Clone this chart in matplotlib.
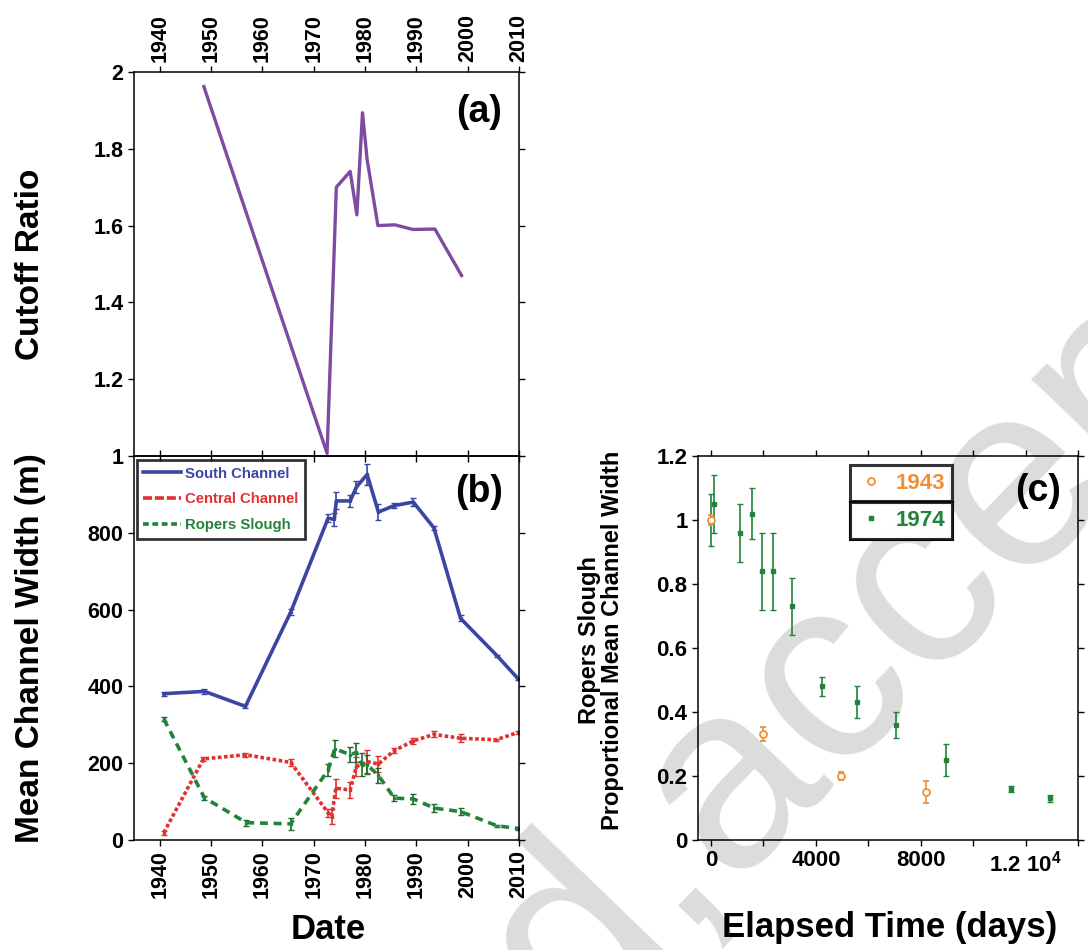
import numpy as np
import matplotlib
matplotlib.use("Agg")
import matplotlib.pyplot as plt
from matplotlib.lines import Line2D

plt.rcParams['font.family'] = ['Liberation Sans', 'DejaVu Sans']
plt.rcParams['font.weight'] = 'bold'
plt.rcParams['mathtext.fontset'] = 'custom'
plt.rcParams['mathtext.rm'] = 'Liberation Sans:bold'
plt.rcParams['mathtext.bf'] = 'Liberation Sans:bold'
plt.rcParams['mathtext.default'] = 'rm'

# (a) cutoff ratio
cut_year = [1948.6, 1972.6, 1974.1, 1974.4, 1977.1, 1978.4, 1979.5, 1980.4,
            1982.5, 1985.8, 1989.3, 1993.6, 1998.8]
cut_ratio = [1.962, 1.007, 1.581, 1.70, 1.741, 1.628, 1.894, 1.772,
             1.60, 1.602, 1.590, 1.591, 1.470]

# (b) mean channel width
south_year = [1940.8, 1948.7, 1956.7, 1965.5, 1972.8, 1974.0, 1974.4, 1977.1, 1978.3,
              1980.4, 1982.6, 1985.7, 1989.4, 1993.4, 1998.6, 2005.7, 2009.8]
south_width = [381, 387, 348, 593, 838, 835, 883, 883, 919,
               952, 854, 871, 880, 813, 577, 480, 420]
south_err = [5, 6, 5, 8, 10, 17, 22, 15, 15, 28, 20, 6, 10, 6, 8, 3, 3]

central_year = [1940.8, 1948.5, 1956.7, 1965.5, 1972.8, 1973.5, 1974.3, 1977.1, 1978.3,
                1980.4, 1982.6, 1985.7, 1989.4, 1993.4, 1998.6, 2005.5, 2009.8]
central_width = [19, 211, 222, 202, 71, 61, 135, 130, 191,
                 204, 198, 233, 258, 275, 265, 261, 280]
central_err = [5, 6, 5, 10, 10, 20, 25, 20, 25, 30, 20, 6, 8, 8, 10, 3, 3]

ropers_year = [1940.8, 1948.7, 1956.9, 1965.5, 1972.8, 1974.1, 1977.1, 1978.3, 1979.4,
               1980.4, 1982.6, 1985.7, 1989.4, 1993.5, 1998.6, 2005.7, 2009.8]
ropers_width = [315, 110, 45, 42, 182, 238, 222, 228, 196,
                196, 168, 109, 107, 83, 74, 37, 30]
ropers_err = [5, 5, 8, 15, 15, 22, 20, 25, 30, 25, 20, 8, 12, 10, 10, 3, 3]

# (c) Ropers Slough proportional width
days_1943 = [0, 1975, 4960, 8190]
prop_1943 = [1.0, 0.33, 0.20, 0.15]
err_1943 = [0.015, 0.022, 0.012, 0.035]

days_1974 = [0, 100, 1090, 1570, 1950, 2370, 3090, 4250, 5560, 7060, 8960, 11460, 12920]
prop_1974 = [1.0, 1.05, 0.96, 1.02, 0.84, 0.84, 0.73, 0.48, 0.43, 0.36, 0.25, 0.16, 0.13]
err_1974 = [0.08, 0.09, 0.09, 0.08, 0.12, 0.12, 0.09, 0.03, 0.05, 0.04, 0.05, 0.01, 0.01]

year_ticks = [1940, 1950, 1960, 1970, 1980, 1990, 2000, 2010]

purple = '#7d4ca0'
blue = '#3b46a3'
red = '#e0302f'
green = '#23833a'
dgreen = '#1f6b2e'
orange = '#f28e35'

fig = plt.figure(figsize=(10.88, 9.5), dpi=100)

# watermark behind everything
fig.text(0.437, -0.205, 'ed,accepted', fontsize=190, fontweight='normal',
         color='#dcdcdc', rotation=46, rotation_mode='anchor',
         ha='left', va='baseline', zorder=-1, family='Liberation Sans')

ax_a = fig.add_axes([0.1232, 0.52, 0.3539, 0.4042])
ax_b = fig.add_axes([0.1232, 0.1158, 0.3539, 0.4042])
ax_c = fig.add_axes([0.6415, 0.1158, 0.3493, 0.4042])

for ax in (ax_a, ax_b, ax_c):
    ax.set_facecolor('none')
    for s in ax.spines.values():
        s.set_linewidth(1.1)
    ax.tick_params(direction='out', length=4, width=1.0, labelsize=15.5,
                   top=True, right=True)

# ---- (a)
ax_a.plot(cut_year, cut_ratio, color=purple, lw=2.4)
ax_a.set_xlim(1935, 2010)
ax_a.set_ylim(1, 2)
ax_a.set_xticks(year_ticks)
ax_a.set_xticklabels([str(y) for y in year_ticks], rotation=90)
ax_a.tick_params(axis='x', labeltop=True, labelbottom=False)
ax_a.set_yticks([1, 1.2, 1.4, 1.6, 1.8, 2])
ax_a.set_yticklabels(['1', '1.2', '1.4', '1.6', '1.8', '2'])
ax_a.set_ylabel('Cutoff Ratio', fontsize=24, fontweight='bold')
ax_a.yaxis.set_label_coords(-0.228, 0.5)
ax_a.text(0.895, 0.895, '(a)', transform=ax_a.transAxes, fontsize=27,
          fontweight='bold', ha='center', va='center')

# ---- (b)
ax_b.errorbar(south_year, south_width, yerr=south_err, color=blue, lw=2.6,
              elinewidth=1.2, capsize=2.5, ecolor=blue, marker='.', ms=3)
ax_b.errorbar(central_year, central_width, yerr=central_err, color=red, lw=2.6,
              ls=(0, (1.0, 0.7)), elinewidth=1.2, capsize=2.5, ecolor=red,
              marker='s', ms=2)
ax_b.errorbar(ropers_year, ropers_width, yerr=ropers_err, color=green, lw=2.6,
              ls=(0, (2.2, 1.6)), elinewidth=1.2, capsize=2.5, ecolor=dgreen,
              marker='s', ms=2)
ax_b.set_xlim(1935, 2010)
ax_b.set_ylim(0, 1000)
ax_b.set_xticks(year_ticks)
ax_b.set_xticklabels([str(y) for y in year_ticks], rotation=90)
ax_b.set_yticks([0, 200, 400, 600, 800])
ax_b.set_ylabel('Mean Channel Width (m)', fontsize=24, fontweight='bold')
ax_b.yaxis.set_label_coords(-0.228, 0.5)
ax_b.set_xlabel('Date', fontsize=25, fontweight='bold', va='center')
ax_b.xaxis.set_label_coords(0.504, -0.234)
ax_b.text(0.895, 0.905, '(b)', transform=ax_b.transAxes, fontsize=27,
          fontweight='bold', ha='center', va='center')

handles = [Line2D([], [], color=blue, lw=2.6),
           Line2D([], [], color=red, lw=2.6, ls=(0, (2.5, 0.8))),
           Line2D([], [], color=green, lw=2.6, ls=(0, (1.6, 1.0)))]
leg_b = ax_b.legend(handles, ['South Channel', 'Central Channel', 'Ropers Slough'],
                    loc='upper left', bbox_to_anchor=(0.007, 0.99), fontsize=10.7,
                    frameon=True, fancybox=False, edgecolor='black',
                    handlelength=2.55, handletextpad=0.27, borderpad=0.45,
                    labelspacing=0.8, borderaxespad=0)
leg_b.get_frame().set_linewidth(2.0)
for t, c in zip(leg_b.get_texts(), [blue, red, green]):
    t.set_color(c)

# ---- (c)
ax_c.errorbar(days_1974, prop_1974, yerr=err_1974, color=green, ls='none',
              marker='s', ms=3.5, elinewidth=1.2, capsize=2.5, zorder=3)
ax_c.errorbar(days_1943, prop_1943, yerr=err_1943, color=orange, ls='none',
              marker='o', ms=5, mfc='white', mew=1.3, elinewidth=1.2, capsize=2.5,
              zorder=4)
ax_c.set_xlim(-500, 14000)
ax_c.set_ylim(0, 1.2)
ax_c.set_xticks(np.arange(0, 14001, 2000))
ax_c.set_xticklabels(['0', '', '4000', '', '8000', '', r'1.2 10$^{4}$', ''])
ax_c.set_yticks([0, 0.2, 0.4, 0.6, 0.8, 1.0, 1.2])
ax_c.set_yticklabels(['0', '0.2', '0.4', '0.6', '0.8', '1', '1.2'])
ax_c.tick_params(labelsize=16)
ax_c.set_ylabel('Ropers Slough\nProportional Mean Channel Width', fontsize=17,
                fontweight='bold', linespacing=1.0)
ax_c.yaxis.set_label_coords(-0.195, 0.52)
ax_c.set_xlabel('Elapsed Time (days)', fontsize=25, fontweight='bold', va='center')
ax_c.xaxis.set_label_coords(0.505, -0.227)
ax_c.text(0.895, 0.91, '(c)', transform=ax_c.transAxes, fontsize=27,
          fontweight='bold', ha='center', va='center')

h43 = Line2D([], [], color=orange, marker='o', ms=5, mfc='white', mew=1.3, ls='none')
h74 = Line2D([], [], color=green, marker='s', ms=3.5, ls='none')
for h, lab, c, y0 in [(h43, '1943', orange, 0.977), (h74, '1974', green, 0.88)]:
    lg = ax_c.legend([h], [lab], loc='upper left', bbox_to_anchor=(0.40, y0, 0.268, 0.0),
                     mode='expand', fontsize=16, frameon=True, fancybox=False,
                     edgecolor='black', handlelength=1.2, handletextpad=0.5,
                     borderpad=0.35, borderaxespad=0)
    lg.get_frame().set_linewidth(2.2)
    lg.get_texts()[0].set_color(c)
    ax_c.add_artist(lg)

fig.savefig('out.png', dpi=100)
